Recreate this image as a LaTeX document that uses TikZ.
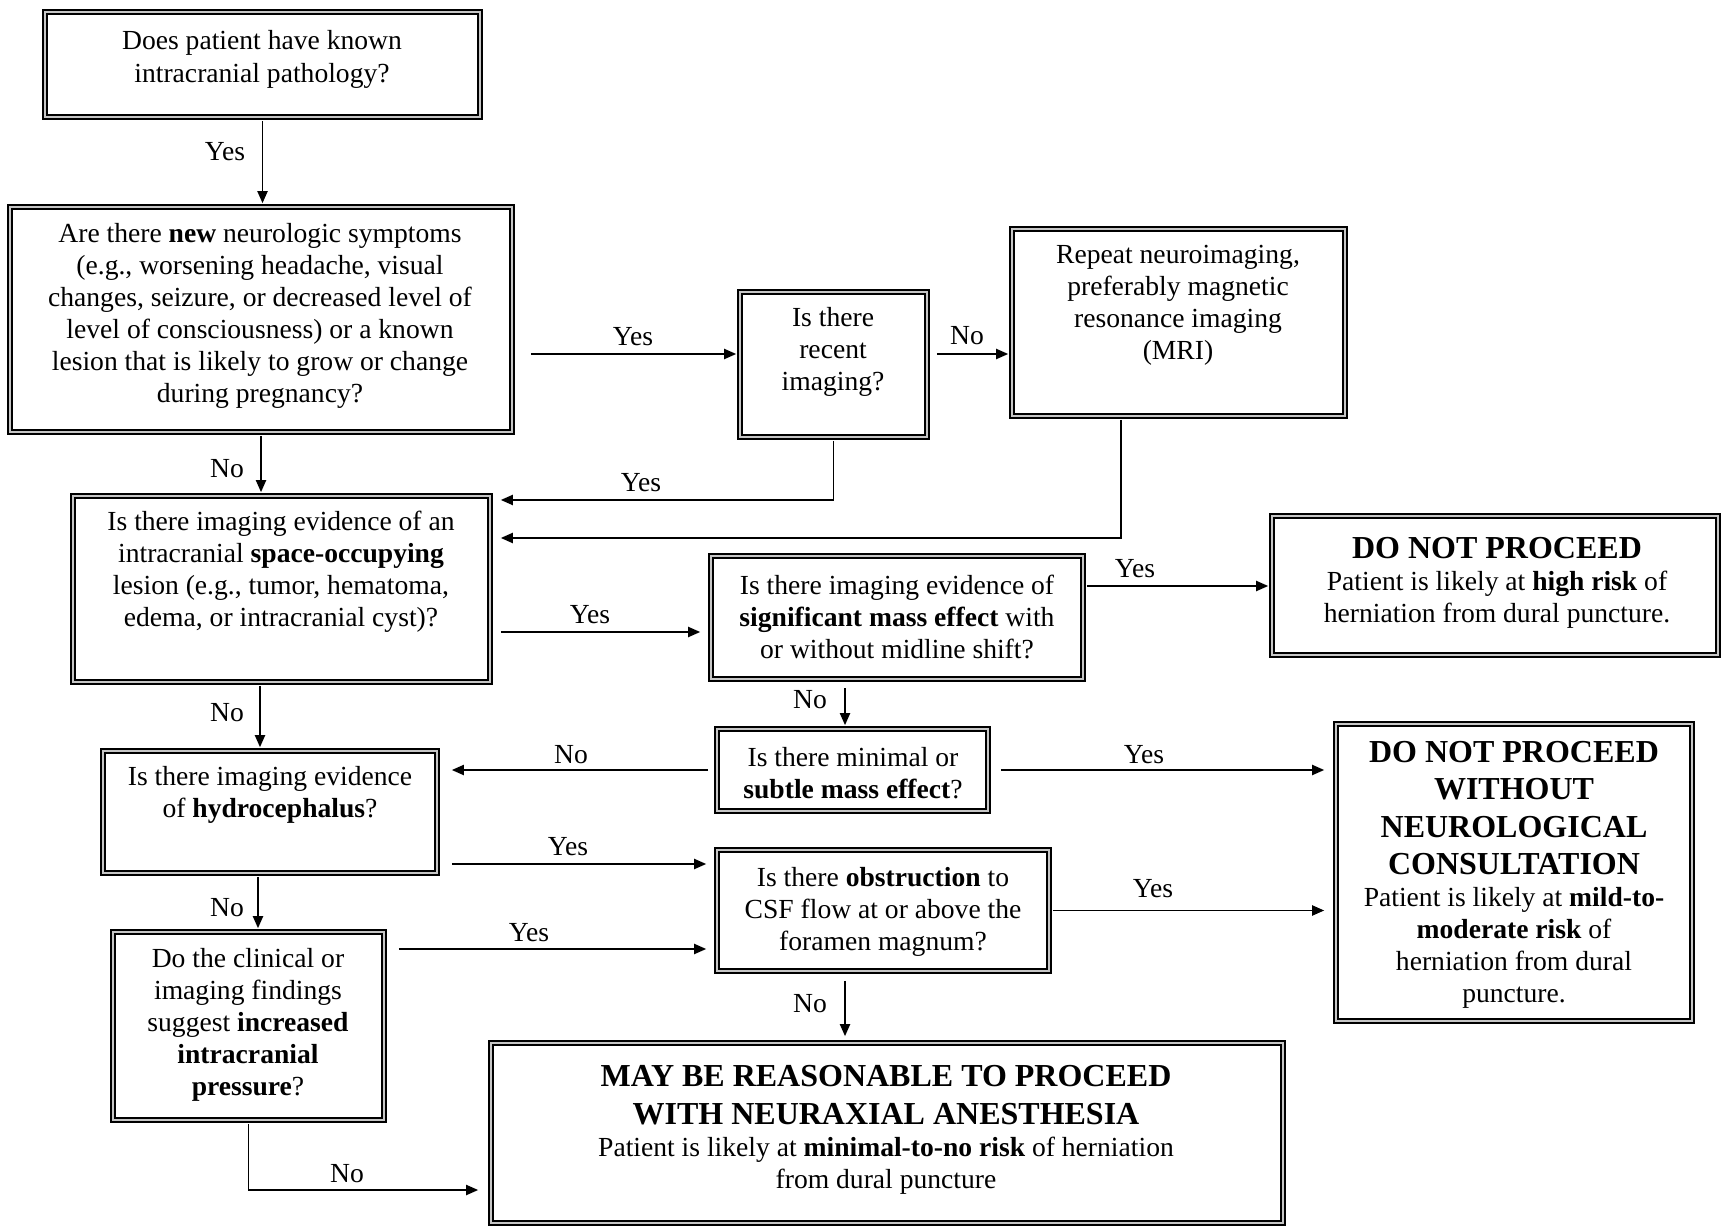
\documentclass[tikz,border=0pt]{standalone}
\usepackage{fontspec}
\setmainfont{Liberation Serif}
\usetikzlibrary{arrows.meta}
\newcommand\hdfont{\fontsize{16}{18.75}\selectfont\bfseries}
\newcommand\bdfont{\fontsize{13.8}{16}\selectfont\mdseries}
\tikzset{
  box/.style={draw=black, line width=0.8pt, double=gray!45, double distance=1.2pt, inner sep=0pt},
  txt/.style={align=center, inner sep=0pt, font=\bdfont},
  lab/.style={inner sep=0pt, font=\bdfont},
  arr/.style={line width=0.95pt, -{Triangle[length=6pt,width=5pt]}, shorten >=1.4pt, shorten <=1.4pt},
}
\begin{document}
\begin{tikzpicture}[x=0.5pt,y=-0.5pt]
\useasboundingbox (0,0) rectangle (1723,1229);

% boxes
\node[box, minimum width=217.7pt, minimum height=52.7pt] (b1) at (262.5,64.5) {};
\node[box, minimum width=251.2pt, minimum height=112.7pt] (b2) at (261,319.5) {};
\node[box, minimum width=93.7pt, minimum height=72.7pt] (b3) at (833.5,364.5) {};
\node[box, minimum width=166.7pt, minimum height=93.7pt] (b4) at (1178.5,322.5) {};
\node[box, minimum width=208.7pt, minimum height=93.2pt] (b5) at (281.5,589) {};
\node[box, minimum width=186.2pt, minimum height=61.7pt] (b6) at (897,617.5) {};
\node[box, minimum width=223.2pt, minimum height=69.7pt] (b7) at (1495,585.5) {};
\node[box, minimum width=167.2pt, minimum height=61.2pt] (b8) at (270,812) {};
\node[box, minimum width=135.7pt, minimum height=41.2pt] (b9) at (852.5,770) {};
\node[box, minimum width=178.2pt, minimum height=148.7pt] (b10) at (1514,872.5) {};
\node[box, minimum width=166.2pt, minimum height=60.7pt] (b11) at (883,910.5) {};
\node[box, minimum width=135.7pt, minimum height=94.2pt] (b12) at (248.5,1026) {};
\node[box, minimum width=396.2pt, minimum height=90.2pt] (b13) at (887,1133) {};

% texts
\node[txt] (t1) at (262,59) {Does patient have known\\[0.5pt]intracranial pathology?};
\node[txt] (t2) at (260,316) {Are there \textbf{new} neurologic symptoms\\(e.g., worsening headache, visual\\changes, seizure, or decreased level of\\level of consciousness) or a known\\lesion that is likely to grow or change\\during pregnancy?};
\node[txt] (t3) at (833,352) {Is there\\recent\\imaging?};
\node[txt] (t4) at (1178,305.5) {Repeat neuroimaging,\\preferably magnetic\\resonance imaging\\(MRI)};
\node[txt] (t5) at (281,572) {Is there imaging evidence of an\\intracranial \textbf{space-occupying}\\lesion (e.g., tumor, hematoma,\\edema, or intracranial cyst)?};
\node[txt] (t6) at (897,616.5) {Is there imaging evidence of\\\textbf{significant mass effect} with\\or without midline shift?};
\node[txt] (t7) at (1497,583) {\hdfont DO NOT PROCEED\\\bdfont Patient is likely at \textbf{high risk} of\\herniation from dural puncture.};
\node[txt] (t8) at (270,795) {Is there imaging evidence\\of \textbf{hydrocephalus}?};
\node[txt] (t9) at (853,773) {Is there minimal or\\\textbf{subtle mass effect}?};
\node[txt] (t10) at (1514,875) {\hdfont DO NOT PROCEED\\[2.75pt]\hdfont WITHOUT\\[2.75pt]\hdfont NEUROLOGICAL\\[2.75pt]\hdfont CONSULTATION\\\bdfont Patient is likely at \textbf{mild-to-}\\\textbf{moderate risk} of\\herniation from dural\\puncture.};
\node[txt] (t11) at (883,912) {Is there \textbf{obstruction} to\\CSF flow at or above the\\foramen magnum?};
\node[txt] (t12) at (248,1025) {Do the clinical or\\imaging findings\\suggest \textbf{increased}\\\textbf{intracranial}\\\textbf{pressure}?};
\node[txt] (t13) at (886,1129.5) {\hdfont MAY BE REASONABLE TO PROCEED\\[3pt]\hdfont WITH NEURAXIAL ANESTHESIA\\\bdfont Patient is likely at \textbf{minimal-to-no risk} of herniation\\from dural puncture};

% connector coordinates
\coordinate (a2s) at ([xshift=8.9pt,yshift=-17.25pt]b2.east);
\coordinate (a5e) at ([xshift=4.9pt,yshift=44.5pt]b5.east);
\coordinate (a6s) at ([xshift=-28.75pt]b4.south);
\coordinate (a6e) at ([xshift=4.9pt,yshift=25.5pt]b5.east);
\coordinate (a7s) at ([xshift=4.9pt,yshift=-21.5pt]b5.east);
\coordinate (a8s) at ([yshift=15.75pt]b6.east);
\coordinate (a9s) at ([xshift=-26pt]b6.south);
\coordinate (a10s) at ([xshift=-10.75pt]b5.south);
\coordinate (a11s) at ([xshift=-3.9pt]b9.west);
\coordinate (a12s) at ([xshift=5.9pt]b9.east);
\coordinate (a13s) at ([xshift=6.9pt,yshift=-26pt]b8.east);
\coordinate (a15s) at ([xshift=-6pt]b8.south);
\coordinate (a16s) at ([xshift=6.9pt,yshift=38.5pt]b12.east);
\coordinate (a17s) at ([xshift=-19pt]b11.south);
\coordinate (a18e) at ([xshift=-5.9pt,yshift=-28.5pt]b13.west);

% connectors
\draw[arr] (b1.south) -- (b1.south |- b2.north);
\draw[arr, shorten <=0pt] (a2s) -- (a2s -| b3.west);
\draw[arr, shorten <=4.4pt] (a2s -| b3.east) -- (a2s -| b4.west);
\draw[arr] (b2.south) -- (b2.south |- b5.north);
\draw[arr, shorten >=0pt] (b3.south) |- (a5e);
\draw[arr, shorten >=0pt] (a6s) |- (a6e);
\draw[arr, shorten <=0pt, shorten >=4.9pt] (a7s) -- (a7s -| b6.west);
\draw[arr] (a8s) -- (a8s -| b7.west);
\draw[arr, shorten <=4pt] (a9s) -- (a9s |- b9.north);
\draw[arr] (a10s) -- (a10s |- b8.north);
\draw[arr, shorten <=0pt, shorten >=6.9pt] (a11s) -- (a11s -| b8.east);
\draw[arr, shorten <=0pt, shorten >=5.4pt] (a12s) -- (a12s -| b10.west);
\draw[arr, shorten <=0pt, shorten >=4.9pt] (a13s) -- (a13s -| b11.west);
\draw[arr, shorten >=5.4pt] (b11.east) -- (b11.east -| b10.west);
\draw[arr] (a15s) -- (a15s |- b12.north);
\draw[arr, shorten <=0pt, shorten >=4.9pt] (a16s) -- (a16s -| b11.west);
\draw[arr, shorten <=4.4pt, shorten >=2.9pt] (a17s) -- (a17s |- b13.north);
\draw[arr, shorten >=0pt] (b12.south) |- (a18e);

% labels
\node[lab] (l1) at (225,152) {Yes};
\node[lab] (l2) at (633,337) {Yes};
\node[lab] (l3) at (967,336) {No};
\node[lab] (l4) at (227,469) {No};
\node[lab] (l5) at (641,483) {Yes};
\node[lab] (l6) at (590,615) {Yes};
\node[lab] (l7) at (1135,569) {Yes};
\node[lab] (l8) at (810,700) {No};
\node[lab] (l9) at (227,713) {No};
\node[lab] (l10) at (571,755) {No};
\node[lab] (l11) at (1144,755) {Yes};
\node[lab] (l12) at (568,847) {Yes};
\node[lab] (l13) at (1153,889) {Yes};
\node[lab] (l14) at (227,908) {No};
\node[lab] (l15) at (529,933) {Yes};
\node[lab] (l16) at (810,1004) {No};
\node[lab] (l17) at (347,1174) {No};
\end{tikzpicture}
\end{document}
